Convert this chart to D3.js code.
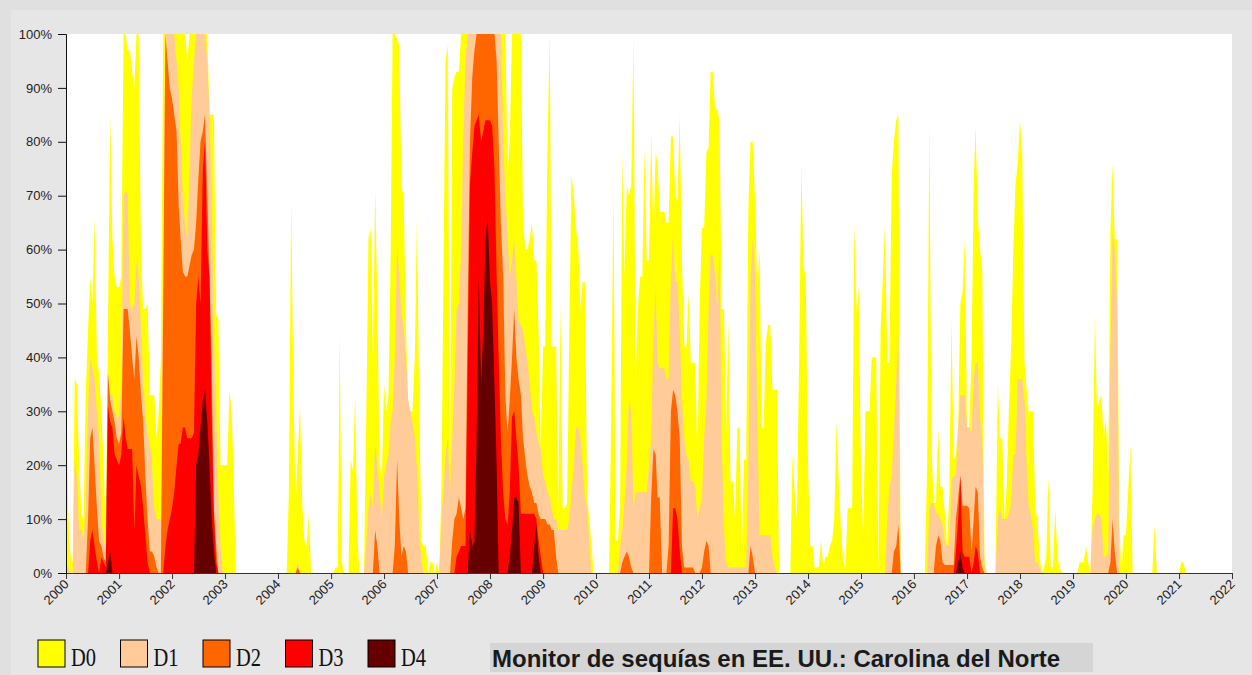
<!DOCTYPE html>
<html>
<head>
<meta charset="utf-8">
<script src="https://cdnjs.cloudflare.com/ajax/libs/d3/7.8.5/d3.min.js"></script>
<style>
  body { margin: 0; background: #e0e0e0; }
  svg { display: block; }
  .tick text { font-family: "Liberation Sans", Arial, sans-serif; font-size: 13px; fill: #222; }
</style>
</head>
<body>
<div id="chart"></div>
<script>
var svgWidth = 1252;
var svgHeight = 675;

var margin = {
  top: 34,
  right: 20,
  bottom: 102,
  left: 66
};

var width = svgWidth - margin.left - margin.right;
var height = svgHeight - margin.top - margin.bottom;

// Percent of area in each category (cumulative: D1 includes D2..D4).
// Two readings a month (1st and 16th), one row per year, starting 2000
var firstYear = 2000;

var d0Rows = [
  [40,12,3,2,36,35,20,11,10,33,45,55,50,66,40,37,30,20,8,45,85,62,55,53],
  [53,55,100,100,97,97,93,90,100,100,59,49,49,50,33,33,33,25,30,40,100,100,100,100],
  [100,100,100,100,100,100,100,95,100,100,100,100,100,100,100,100,100,85,85,85,48,47,20,20],
  [20,20,34,30,18,0,0,0,0,0,0,0,0,0,0,0,0,0,0,0,0,0,0,0],
  [0,0,0,0,0,15,69,35,12,22,31,13,6,5,11,0,0,0,0,0,0,0,0,0],
  [0,0,1,1,44,2,0,0,0,21,19,33,7,0,0,0,30,62,64,40,71,50,21,17],
  [35,30,33,60,100,100,99,98,72,70,45,32,30,30,40,66,30,6,5,5,0,2,2,0],
  [2,0,16,60,95,98,20,90,92,93,93,100,100,100,100,100,100,100,100,100,100,100,100,100],
  [100,100,100,100,100,100,100,100,74,80,100,100,100,100,100,65,60,60,62,65,58,58,45,23],
  [42,42,80,100,42,42,42,12,50,12,12,13,45,74,70,64,60,49,54,54,14,10,5,0],
  [0,0,0,0,0,0,0,30,71,6,6,13,78,55,72,70,72,100,36,49,55,55,79,58],
  [58,82,62,78,76,67,67,67,65,65,81,81,70,69,85,58,42,42,52,39,39,39,20,50],
  [64,64,78,79,93,93,86,86,84,49,49,26,47,17,17,10,27,27,3,21,21,68,80,80],
  [69,53,60,27,27,43,46,46,34,34,34,0,0,0,0,0,0,22,15,10,40,76,57,55],
  [20,5,5,1,1,1,6,1,3,3,5,6,10,28,17,8,2,1,12,12,12,65,49,53],
  [19,7,30,30,30,40,40,40,0,45,55,65,39,39,74,80,84,85,0,0,0,0,0,0],
  [0,0,0,0,0,0,20,84,23,13,13,27,16,16,11,5,15,47,21,22,28,50,52,62],
  [27,27,40,72,83,66,60,56,3,0,0,0,0,0,35,25,25,10,16,30,42,60,72,76],
  [84,78,39,34,30,30,30,12,10,3,0,1,3,18,1,1,12,3,1,0,0,0,0,0],
  [0,0,0,2,2,2,5,2,0,15,48,30,32,33,25,29,18,63,76,62,62,10,0,7],
  [7,15,24,0,0,0,0,0,0,0,0,0,0,9,0,0,0,0,0,0,0,0,0,0],
  [0,2,2,0,0,0,0,0,0,0,0,0,0,0,0,0,0,0,0,0,0,0,0,0]
];

var d1Rows = [
  [2,1,0,0,21,18,8,8,6,12,30,40,38,36,30,25,10,6,5,37,33,33,30,29],
  [29,35,70,71,70,50,49,50,58,55,45,36,30,26,24,20,12,10,10,10,60,100,100,100],
  [100,100,95,90,80,70,65,62,75,88,95,100,100,100,100,100,95,85,70,45,30,15,5,0],
  [0,0,0,0,0,0,0,0,0,0,0,0,0,0,0,0,0,0,0,0,0,0,0,0],
  [0,0,0,0,0,0,0,0,0,2,0,0,0,0,0,0,0,0,0,0,0,0,0,0],
  [0,0,0,0,0,0,0,0,0,0,0,0,0,0,0,0,5,12,15,12,24,20,15,10],
  [18,20,22,28,30,40,61,55,48,46,40,32,30,28,25,19,8,2,0,0,0,0,0,0],
  [0,0,10,16,22,25,15,25,35,49,50,60,81,95,100,100,100,100,100,100,100,100,100,100],
  [100,100,100,100,100,100,81,70,63,55,58,62,55,47,46,45,42,39,35,30,29,26,24,23],
  [18,17,15,14,12,10,10,8,8,8,8,8,10,15,20,27,27,25,20,14,12,5,0,0],
  [0,0,0,0,0,0,0,0,0,0,0,5,8,13,20,32,30,12,15,15,15,15,15,15],
  [20,25,44,53,39,38,38,38,36,36,55,63,54,54,45,32,25,22,21,17,17,16,10,12],
  [14,25,32,49,59,59,55,49,60,25,8,2,1,1,1,1,1,1,1,1,1,20,55,62],
  [56,30,7,7,7,7,7,7,3,1,0,0,0,0,0,0,0,0,0,0,0,0,0,0],
  [0,0,0,0,0,0,0,0,0,0,0,0,0,0,0,0,0,0,0,0,0,0,0,0],
  [0,0,0,0,0,0,0,0,0,0,0,0,10,16,18,26,36,44,0,0,0,0,0,0],
  [0,0,0,0,0,0,0,12,13,13,11,11,10,9,6,5,5,17,18,18,27,33,33,33],
  [27,27,26,36,39,39,29,25,1,0,0,0,0,0,10,12,10,10,10,11,13,22,22,36],
  [36,36,32,20,13,11,8,2,2,1,0,0,0,0,0,0,0,0,0,0,0,0,0,0],
  [0,0,0,0,0,0,0,0,0,8,10,11,11,10,3,3,4,40,63,60,50,0,0,0],
  [0,0,0,0,0,0,0,0,0,0,0,0,0,0,0,0,0,0,0,0,0,0,0,0],
  [0,0,0,0,0,0,0,0,0,0,0,0,0,0,0,0,0,0,0,0,0,0,0,0]
];

var d2Rows = [
  [0,0,0,0,0,0,0,0,0,0,10,25,27,20,12,6,5,3,2,37,32,30,28,25],
  [24,26,49,49,49,45,40,36,44,40,33,28,18,10,4,4,3,1,0,0,50,100,95,90],
  [88,85,82,68,62,56,55,55,57,59,60,65,73,80,82,85,70,55,40,12,5,0,0,0],
  [0,0,0,0,0,0,0,0,0,0,0,0,0,0,0,0,0,0,0,0,0,0,0,0],
  [0,0,0,0,0,0,0,0,0,1,0,0,0,0,0,0,0,0,0,0,0,0,0,0],
  [0,0,0,0,0,0,0,0,0,0,0,0,0,0,0,0,0,0,0,0,8,5,0,0],
  [0,0,0,0,0,5,21,10,3,5,4,0,0,0,0,0,0,0,0,0,0,0,0,0],
  [0,0,0,0,0,0,0,6,10,11,14,12,10,12,50,80,92,97,100,100,100,100,100,100],
  [100,100,100,95,80,65,55,33,26,32,40,49,40,36,33,25,21,18,16,15,13,13,11,10],
  [10,10,9,9,8,8,3,0,0,0,0,0,0,0,0,0,0,0,0,0,0,0,0,0],
  [0,0,0,0,0,0,0,0,0,0,0,0,2,3,4,3,1,0,0,0,0,0,0,0],
  [0,14,23,22,14,14,0,0,0,5,30,34,33,30,25,5,1,1,1,1,1,0,0,0],
  [1,4,6,5,0,0,0,0,0,0,0,0,0,0,0,0,0,0,0,0,0,0,5,3],
  [0,0,0,0,0,0,0,0,0,0,0,0,0,0,0,0,0,0,0,0,0,0,0,0],
  [0,0,0,0,0,0,0,0,0,0,0,0,0,0,0,0,0,0,0,0,0,0,0,0],
  [0,0,0,0,0,0,0,0,0,0,0,0,0,0,0,4,5,9,0,0,0,0,0,0],
  [0,0,0,0,0,0,0,0,0,0,5,7,6,2,1.5,1.5,1.5,1.5,1.5,10,14,18,12.5,12.5],
  [12.5,12,4,10,16,15,3,1,0,0,0,0,0,0,0,0,0,0,0,0,0,0,0,0],
  [0,0,0,0,0,0,0,0,0,0,0,0,0,0,0,0,0,0,0,0,0,0,0,0],
  [0,0,0,0,0,0,0,0,0,0,0,0,0,0,0,0,0,2,10,4,0,0,0,0],
  [0,0,0,0,0,0,0,0,0,0,0,0,0,0,0,0,0,0,0,0,0,0,0,0],
  [0,0,0,0,0,0,0,0,0,0,0,0,0,0,0,0,0,0,0,0,0,0,0,0]
];

var d3Rows = [
  [0,0,0,0,0,0,0,0,0,0,0,6,8,5,2,0,3,2,1,31,28,27,22,21],
  [20,22,29,25,23,23,23,8,20,18,16,12,7,2,0,0,0,0,0,0,0,5,8,10],
  [12,15,20,24,24,27,27,25,25,25,26,50,55,50,75,80,60,55,29,11,2,0,0,0],
  [0,0,0,0,0,0,0,0,0,0,0,0,0,0,0,0,0,0,0,0,0,0,0,0],
  [0,0,0,0,0,0,0,0,0,0,0,0,0,0,0,0,0,0,0,0,0,0,0,0],
  [0,0,0,0,0,0,0,0,0,0,0,0,0,0,0,0,0,0,0,0,0,0,0,0],
  [0,0,0,0,0,0,0,0,0,0,0,0,0,0,0,0,0,0,0,0,0,0,0,0],
  [0,0,0,0,0,0,0,0,0,3,4,5,5,5,40,72,78,83,84,85,80,82,84,84],
  [84,83,75,55,40,25,15,10,9,15,29,30,25,20,11,11,11,11,11,11,11,10,6,3],
  [0,0,0,0,0,0,0,0,0,0,0,0,0,0,0,0,0,0,0,0,0,0,0,0],
  [0,0,0,0,0,0,0,0,0,0,0,0,0,0,0,0,0,0,0,0,0,0,0,0],
  [0,0,0,0,0,0,0,0,0,0,0,12,12,10,4,0,0,0,0,0,0,0,0,0],
  [0,0,0,0,0,0,0,0,0,0,0,0,0,0,0,0,0,0,0,0,0,0,0,0],
  [0,0,0,0,0,0,0,0,0,0,0,0,0,0,0,0,0,0,0,0,0,0,0,0],
  [0,0,0,0,0,0,0,0,0,0,0,0,0,0,0,0,0,0,0,0,0,0,0,0],
  [0,0,0,0,0,0,0,0,0,0,0,0,0,0,0,0,0,0,0,0,0,0,0,0],
  [0,0,0,0,0,0,0,0,0,0,0,0,0,0,0,0,0,0,0,4,10,18,4,3],
  [3,3,0,2,5,4,0,0,0,0,0,0,0,0,0,0,0,0,0,0,0,0,0,0],
  [0,0,0,0,0,0,0,0,0,0,0,0,0,0,0,0,0,0,0,0,0,0,0,0],
  [0,0,0,0,0,0,0,0,0,0,0,0,0,0,0,0,0,0,0,0,0,0,0,0],
  [0,0,0,0,0,0,0,0,0,0,0,0,0,0,0,0,0,0,0,0,0,0,0,0],
  [0,0,0,0,0,0,0,0,0,0,0,0,0,0,0,0,0,0,0,0,0,0,0,0]
];

var d4Rows = [
  [0,0,0,0,0,0,0,0,0,0,0,0,0,0,0,0,0,0,0,2,4,0,0,0],
  [0,0,0,0,0,0,0,0,0,0,0,0,0,0,0,0,0,0,0,0,0,0,0,0],
  [0,0,0,0,0,0,0,0,0,0,0,20,22,27,32,34,28,20,10,4,0,0,0,0],
  [0,0,0,0,0,0,0,0,0,0,0,0,0,0,0,0,0,0,0,0,0,0,0,0],
  [0,0,0,0,0,0,0,0,0,0,0,0,0,0,0,0,0,0,0,0,0,0,0,0],
  [0,0,0,0,0,0,0,0,0,0,0,0,0,0,0,0,0,0,0,0,0,0,0,0],
  [0,0,0,0,0,0,0,0,0,0,0,0,0,0,0,0,0,0,0,0,0,0,0,0],
  [0,0,0,0,0,0,0,0,0,0,0,0,0,0,0,8,5,6,25,55,35,45,62,66],
  [54,50,35,20,0,0,0,0,0,3,8,14,14,13,0,0,0,0,0,0,5,9,3,0],
  [0,0,0,0,0,0,0,0,0,0,0,0,0,0,0,0,0,0,0,0,0,0,0,0],
  [0,0,0,0,0,0,0,0,0,0,0,0,0,0,0,0,0,0,0,0,0,0,0,0],
  [0,0,0,0,0,0,0,0,0,0,0,0,0,0,0,0,0,0,0,0,0,0,0,0],
  [0,0,0,0,0,0,0,0,0,0,0,0,0,0,0,0,0,0,0,0,0,0,0,0],
  [0,0,0,0,0,0,0,0,0,0,0,0,0,0,0,0,0,0,0,0,0,0,0,0],
  [0,0,0,0,0,0,0,0,0,0,0,0,0,0,0,0,0,0,0,0,0,0,0,0],
  [0,0,0,0,0,0,0,0,0,0,0,0,0,0,0,0,0,0,0,0,0,0,0,0],
  [0,0,0,0,0,0,0,0,0,0,0,0,0,0,0,0,0,0,0,0,2,4,1,0],
  [0,0,0,0,0,0,0,0,0,0,0,0,0,0,0,0,0,0,0,0,0,0,0,0],
  [0,0,0,0,0,0,0,0,0,0,0,0,0,0,0,0,0,0,0,0,0,0,0,0],
  [0,0,0,0,0,0,0,0,0,0,0,0,0,0,0,0,0,0,0,0,0,0,0,0],
  [0,0,0,0,0,0,0,0,0,0,0,0,0,0,0,0,0,0,0,0,0,0,0,0],
  [0,0,0,0,0,0,0,0,0,0,0,0,0,0,0,0,0,0,0,0,0,0,0,0]
];

var seriesNames = ["D0", "D1", "D2", "D3", "D4"];
var seriesColors = ["#ffff00", "#ffcc99", "#ff6600", "#ff0000", "#660000"];
var yTickValues = [0, 10, 20, 30, 40, 50, 60, 70, 80, 90, 100];
var chartTitle = "Monitor de sequías en EE. UU.: Carolina del Norte";

// Dates for every reading: 1st and 16th of each month
var dates = [];
d0Rows.forEach(function(row, yi) {
  row.forEach(function(v, i) {
    dates.push(new Date(firstYear + yi, Math.floor(i / 2), i % 2 ? 16 : 1));
  });
});

var allSeries = [d0Rows, d1Rows, d2Rows, d3Rows, d4Rows].map(function(rows, k) {
  var flat = [].concat.apply([], rows);
  return {
    name: seriesNames[k],
    color: seriesColors[k],
    values: flat.map(function(v, i) { return { date: dates[i], value: v }; })
  };
});

var svg = d3.select("#chart")
  .append("svg")
  .attr("width", svgWidth)
  .attr("height", svgHeight);

// page background (slightly lighter inside the outer frame)
svg.append("rect")
  .attr("x", 11).attr("y", 10)
  .attr("width", svgWidth - 11).attr("height", svgHeight - 10)
  .attr("fill", "#e6e6e6");

var chartGroup = svg.append("g")
  .attr("transform", `translate(${margin.left}, ${margin.top})`);

chartGroup.append("rect")
  .attr("width", width)
  .attr("height", height)
  .attr("fill", "#ffffff");

chartGroup.append("clipPath")
  .attr("id", "plotClip")
  .append("rect")
  .attr("width", width)
  .attr("height", height);

// Scales
var xTimeScale = d3.scaleTime()
  .domain([new Date(2000, 0, 1), new Date(2022, 0, 1)])
  .range([0, width]);

var yLinearScale = d3.scaleLinear()
  .domain([0, 100])
  .range([height, 0]);

var area = d3.area()
  .x(d => xTimeScale(d.date))
  .y0(yLinearScale(0))
  .y1(d => yLinearScale(d.value));

// Each category drawn from zero, worst category on top
chartGroup.append("g")
  .attr("clip-path", "url(#plotClip)")
  .selectAll("path")
  .data(allSeries)
  .enter()
  .append("path")
  .attr("d", d => area(d.values))
  .attr("fill", d => d.color);

// Axes
var bottomAxis = d3.axisBottom(xTimeScale)
  .ticks(d3.timeYear.every(1))
  .tickFormat(d3.timeFormat("%Y"))
  .tickSize(6);

var leftAxis = d3.axisLeft(yLinearScale)
  .tickValues(yTickValues)
  .tickFormat(d => d + "%")
  .tickSize(8)
  .tickPadding(6);

var xAxisGroup = chartGroup.append("g")
  .attr("transform", `translate(0, ${height})`)
  .call(bottomAxis);

xAxisGroup.selectAll("text")
  .attr("y", 0)
  .attr("dy", 0)
  .attr("text-anchor", "end")
  .attr("transform", "translate(3, 12) rotate(-45)");

var yAxisGroup = chartGroup.append("g")
  .call(leftAxis);

xAxisGroup.selectAll("path, line").attr("stroke", "#333");
yAxisGroup.selectAll("path, line").attr("stroke", "#111");

// Legend
var legendGroup = svg.append("g")
  .attr("transform", "translate(38, 640)");

var legendItems = legendGroup.selectAll("g")
  .data(allSeries)
  .enter()
  .append("g")
  .attr("transform", (d, i) => `translate(${i * 82.5}, 0)`);

legendItems.append("rect")
  .attr("width", 27)
  .attr("height", 27)
  .attr("fill", d => d.color)
  .attr("stroke", "#000")
  .attr("stroke-width", 1);

legendItems.append("text")
  .attr("x", 33)
  .attr("y", 26)
  .attr("font-family", "'Liberation Serif', 'Times New Roman', serif")
  .attr("font-size", "26px")
  .attr("textLength", 25)
  .attr("lengthAdjust", "spacingAndGlyphs")
  .attr("fill", "#111")
  .text(d => d.name);

// Title box
svg.append("rect")
  .attr("x", 490)
  .attr("y", 643)
  .attr("width", 603)
  .attr("height", 29)
  .attr("fill", "#d5d5d5");

svg.append("text")
  .attr("x", 492)
  .attr("y", 667)
  .attr("font-family", "'Liberation Sans', Arial, sans-serif")
  .attr("font-weight", "bold")
  .attr("font-size", "24px")
  .attr("fill", "#1a1a1a")
  .text(chartTitle);
</script>
</body>
</html>
